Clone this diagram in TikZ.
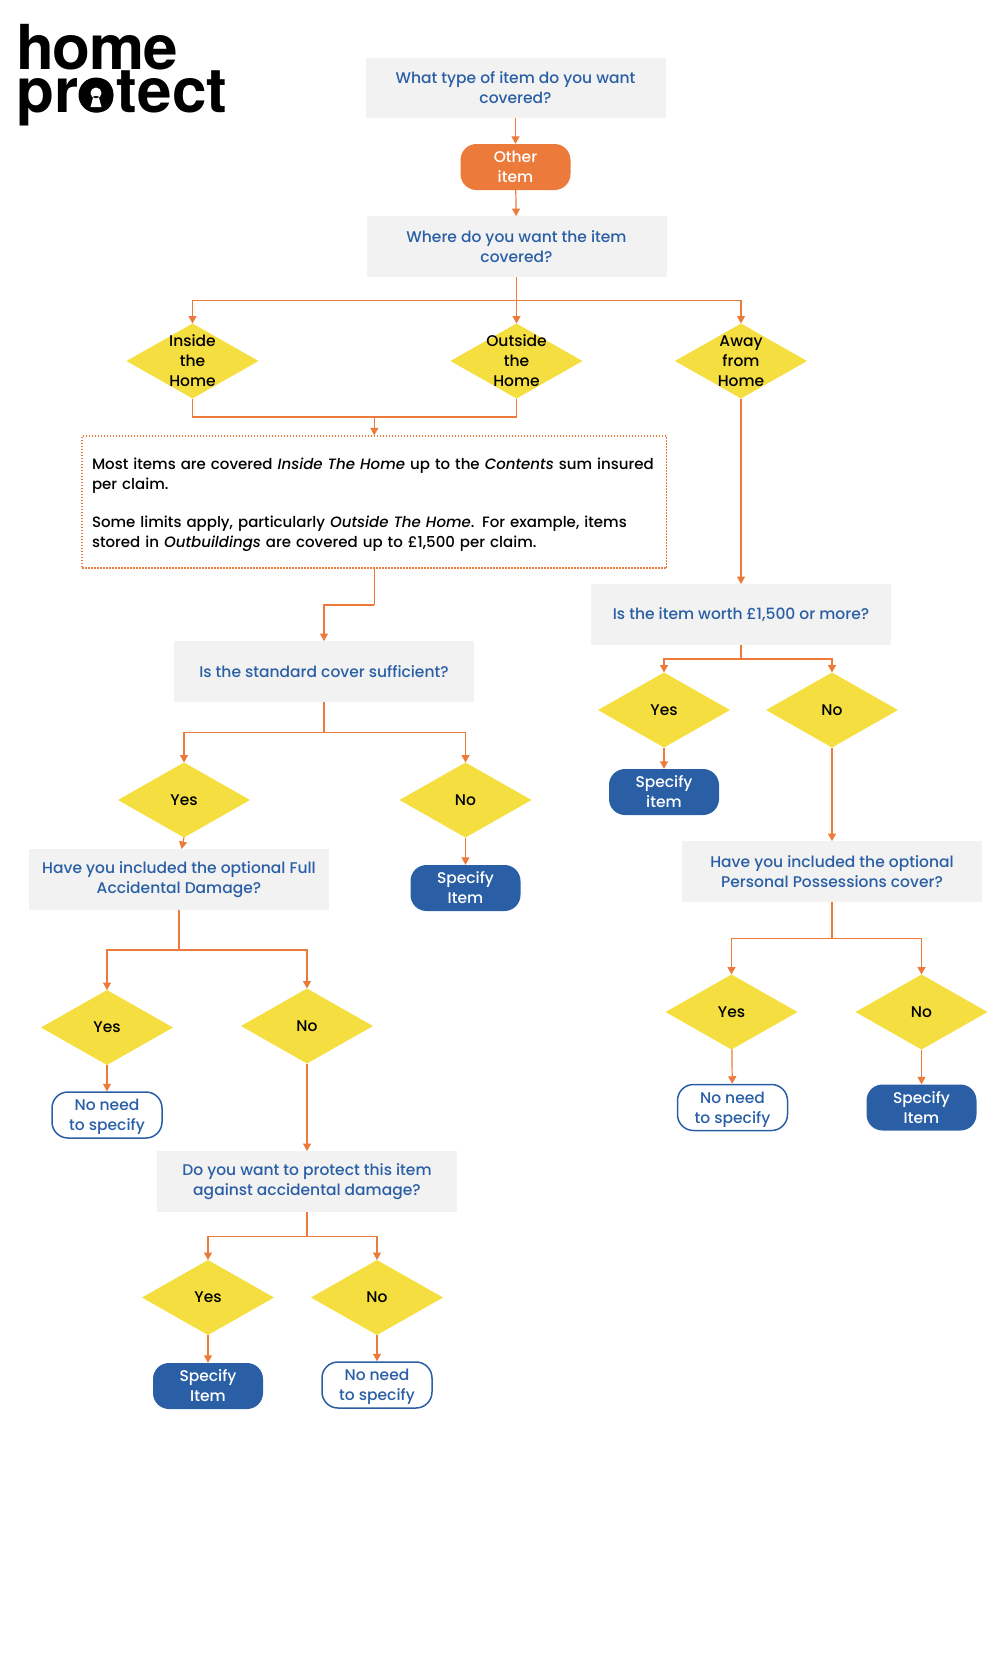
\documentclass[tikz,border=0pt]{standalone}
\usepackage{fontspec}
\setmainfont{Poppins Medium}[ItalicFont=Poppins Medium Italic]
\newfontfamily\logofont[LetterSpace=-2]{TeX Gyre Heros}
\newfontfamily\logowide[LetterSpace=0.6]{TeX Gyre Heros}
\usetikzlibrary{arrows.meta,shapes.geometric}
\definecolor{hporange}{HTML}{EC7A3B}
\definecolor{hpyellow}{HTML}{F5DF40}
\definecolor{hpblue}{HTML}{2A5FA5}
\definecolor{hpgrey}{HTML}{F2F2F2}
\tikzset{
  qbox/.style={fill=hpgrey,text=hpblue,align=center,minimum width=300pt,minimum height=60.5pt,inner sep=0pt},
  dia/.style={diamond,fill=hpyellow,shape aspect=1.75,minimum width=132pt,minimum height=75pt,inner sep=0pt,outer sep=0pt},
  diatxt/.style={align=center,inner sep=0pt},
  pill/.style={rounded corners=16pt,align=center,minimum width=110pt,minimum height=46pt,inner sep=0pt},
  pillfull/.style={pill,fill=hpblue,text=white},
  pillopen/.style={pill,draw=hpblue,line width=1.5pt,fill=white,text=hpblue},
  notebox/.style={draw=hporange,line width=1.4pt,dash pattern=on 1.5pt off 1.5pt,align=left,font=\fontsize{15}{20}\selectfont,text width=564.6pt,minimum height=132pt,inner xsep=10pt,inner ysep=0pt},
  wire/.style={draw=hporange,line width=1.2pt},
  link/.style={wire,-{Triangle[length=7.5pt,width=8pt]}},
  logotxt/.style={anchor=base west,inner sep=0pt}
}
\begin{document}
\begin{tikzpicture}[x=1pt,y=-1pt,font=\fontsize{15.5}{20}\selectfont]
\useasboundingbox (0,0) rectangle (1008,1663);
% logo
\node[logotxt,font=\logofont\bfseries\fontsize{62}{62}\selectfont] (home) at (16,69) {home};
\node[logotxt,font=\logowide\bfseries\fontsize{62}{62}\selectfont] (protect) at (16,112) {protect};
\fill (96,95) circle(17.5);
\fill[white] (96,93) circle(5.5) (93.5,96) -- (90.5,107) -- (101.5,107) -- (98.5,96) -- cycle;
% questions
\foreach \n/\x/\y/\t in {q1/515.5/88/{What type of item do you want\\covered?},
  q2/516.5/246.5/{Where do you want the item\\covered?},
  q3/324/671.5/{Is the standard cover sufficient?},
  q4/179/879.5/{Have you included the optional Full\\Accidental Damage?},
  q5/307/1181.5/{Do you want to protect this item\\against accidental damage?},
  q6/741/614.5/{Is the item worth £1,500 or more?},
  q7/832/871.5/{Have you included the optional\\Personal Possessions cover?}}{
  \node[qbox] (\n) at (\x,\y) {\t};
}
% decisions
\foreach \n/\x/\y/\t in {inside/192.5/361/{Inside\\the\\Home},outside/516.5/361/{Outside\\the\\Home},away/741/361/{Away\\from\\Home},
  yesa/184/800/Yes,noa/465.5/800/No,yesb/107/1027.5/Yes,nob/307/1026/No,yesc/208/1297.5/Yes,noc/377/1297.5/No,
  yesd/664/710/Yes,nod/832/710/No,yese/731.5/1012/Yes,noe/921.5/1012/No}{
  \node[dia] (\n) at (\x,\y) {};
  \node[diatxt] (\n txt) at (\n) {\t};
}
% end boxes
\node[pill,fill=hporange,text=white] (other) at (515.5,167) {Other\\item};
\foreach \n/\x/\y/\t in {speca/465.5/888/Item,specc/208/1386/Item,specd/664/792/item,spece/921.5/1107.5/Item}{
  \node[pillfull] (\n) at (\x,\y) {Specify\\\t};
}
\foreach \n/\x/\y in {needb/107/1115,needc/377/1385,needd/732.5/1107.5}{
  \node[pillopen] (\n) at (\x,\y) {No need\\to \smash{specify}};
}
\node[notebox] (note) at (374.3,502) {\rule{0pt}{17pt}Most items are covered \textit{Inside The Home} up to the \textit{Contents} sum insured\\per claim.\\[18pt]Some limits apply, particularly \textit{Outside The Home}. For example, items\\stored in \textit{Outbuildings} are covered up to £1,500 per claim.};
% junctions
\coordinate (j2) at (516.5,300.5);
\coordinate (j3) at (374.3,417);
\coordinate (j4) at (374.3,605);
\coordinate (j5) at (324,732.5);
\coordinate (t4) at (181.5,849);
\coordinate (j6) at (179,950);
\coordinate (j7) at (307,1236.5);
\coordinate (j8) at (741,659);
\coordinate (j9) at (832,938.5);
% connectors
\draw[link] (q1) -- (other);
\draw[link] (other) -- (q2);
\draw[wire] (q2) -- (j2);
\draw[link] (j2) -| (inside.north);
\draw[link] (j2) -- (outside);
\draw[link] (j2) -| (away.north);
\draw[wire] (inside.south) |- (j3);
\draw[wire] (outside.south) |- (j3);
\draw[link] (j3) -- (note);
\draw[wire] (note) -- (j4);
\draw[link] (j4) -| (q3.north);
\draw[wire] (q3) -- (j5);
\draw[link] (j5) -| (yesa.north);
\draw[link] (j5) -| (noa.north);
\draw[link] (yesa.south) -- (t4);
\draw[link] (noa) -- (speca);
\draw[wire] (q4) -- (j6);
\draw[link] (j6) -| (yesb.north);
\draw[link] (j6) -| (nob.north);
\draw[link] (yesb) -- (needb);
\draw[link] (nob) -- (q5);
\draw[wire] (q5) -- (j7);
\draw[link] (j7) -| (yesc.north);
\draw[link] (j7) -| (noc.north);
\draw[link] (yesc) -- (specc);
\draw[link] (noc) -- (needc);
\draw[link] (away) -- (q6);
\draw[wire] (q6) -- (j8);
\draw[link] (j8) -| (yesd.north);
\draw[link] (j8) -| (nod.north);
\draw[link] (yesd) -- (specd);
\draw[link] (nod) -- (q7);
\draw[wire] (q7) -- (j9);
\draw[link] (j9) -| (yese.north);
\draw[link] (j9) -| (noe.north);
\draw[link] (yese) -- (needd);
\draw[link] (noe) -- (spece);
\end{tikzpicture}
\end{document}
